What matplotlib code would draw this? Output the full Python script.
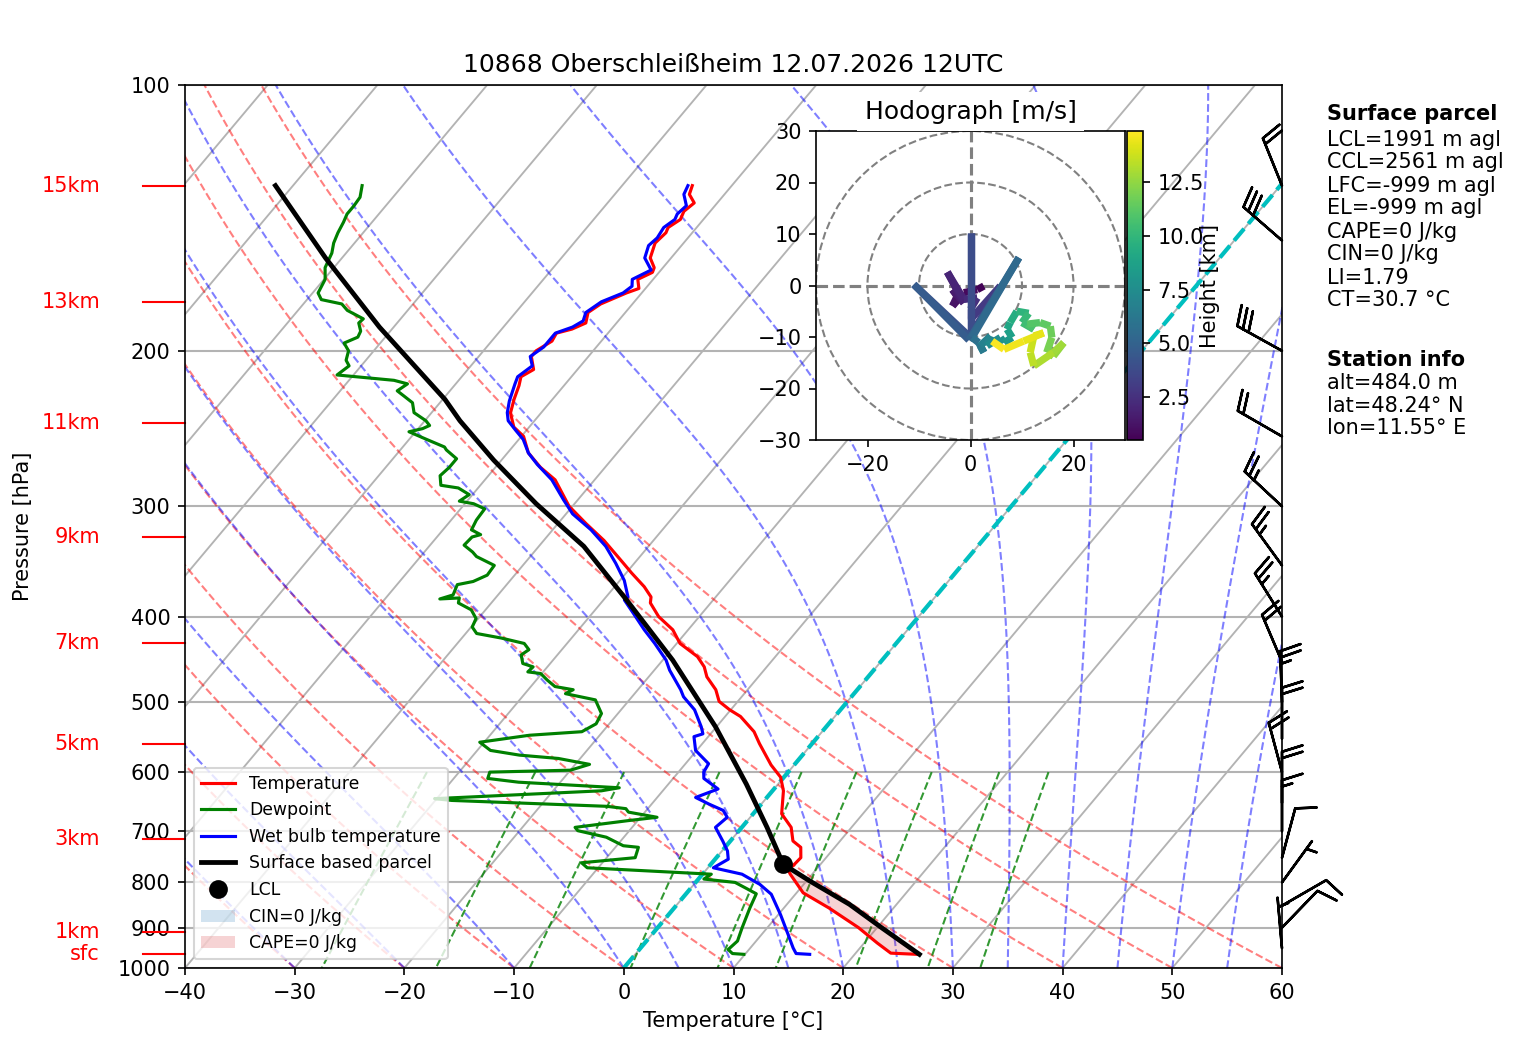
import numpy as np
import matplotlib
matplotlib.use('Agg')
import matplotlib.pyplot as plt
import matplotlib.transforms as mtransforms
from matplotlib.collections import LineCollection
from matplotlib.lines import Line2D
from matplotlib.patches import Circle, Patch
from matplotlib.ticker import NullLocator

# sounding values (hPa, degC), surface first
temp_p = [965, 962, 937, 900, 855, 822, 783, 773, 766, 750, 730, 718, 693, 669, 630, 608,
          589, 557, 540, 519, 510, 499, 484, 468, 456, 444, 429, 414, 400, 386, 380, 370,
          357, 348, 328, 314, 300, 280, 271, 261, 250, 244, 237, 235, 227, 219, 214, 210,
          203, 200, 195, 191, 189, 186, 181, 177, 172, 170, 166, 163, 161, 157, 151, 147,
          145, 142, 139, 136, 133, 130]
temp_t = [25.7, 23.2, 21.2, 18.3, 14.1, 10.6, 8.0, 7.4, 7.6, 7.7, 6.9, 5.7, 4.5, 2.6, 1.0, -0.3,
          -2.1, -4.8, -6.2, -8.6, -10.1, -11.7, -12.9, -14.7, -15.7, -17.1, -19.7, -21.4, -23.7,
          -25.5, -25.9, -27.3, -29.5, -31.0, -34.5, -37.4, -40.3, -43.6, -45.9, -48.1, -49.8,
          -51.4, -52.5, -52.8, -53.5, -54.1, -54.6, -54.0, -55.2, -55.2, -54.5, -54.7, -53.6,
          -52.8, -53.4, -52.9, -51.4, -50.6, -51.4, -50.6, -50.8, -51.9, -52.6, -52.4, -52.6,
          -52.1, -52.4, -52.1, -53.2, -53.6]

dewp_p = [965, 963, 953, 932, 900, 855, 824, 811, 800, 793, 783, 770, 760, 750, 730, 727,
          711, 699, 693, 681, 675, 666, 660, 656, 646, 643, 630, 625, 616, 610, 600, 597,
          588, 579, 574, 567, 555, 545, 540, 529, 515, 497, 489, 484, 480, 472, 464, 462,
          456, 452, 442, 436, 429, 423, 418, 411, 402, 393, 386, 381, 382, 378, 368, 365,
          359, 350, 342, 338, 332, 325, 323, 319, 311, 302, 298, 296, 291, 286, 284, 277,
          271, 265, 259, 257, 252, 247, 245, 243, 240, 235, 229, 225, 222, 218, 216, 213,
          208, 205, 200, 196, 193, 190, 186, 184, 180, 177, 175, 172, 166, 161, 155, 151,
          147, 143, 140, 137, 134, 130]
dewp_t = [9.9, 8.8, 8.1, 8.3, 7.7, 6.9, 6.4, 4.9, 3.6, 0.5, 0.8, -11.0, -11.9, -7.4, -7.9,
          -9.4, -11.6, -14.7, -15.2, -10.9, -8.5, -11.5, -12.0, -13.9, -28.5, -30.2, -15.6,
          -14.2, -23.8, -26.9, -27.2, -20.0, -18.7, -22.0, -25.8, -28.8, -30.4, -26.4, -21.9,
          -21.2, -21.5, -23.1, -26.3, -25.9, -27.8, -29.0, -30.1, -31.4, -31.3, -32.5, -33.3,
          -33.0, -33.9, -36.4, -39.0, -39.9, -40.2, -41.3, -43.0, -43.3, -45.0, -44.1, -44.5,
          -43.3, -42.5, -42.6, -44.9, -45.6, -46.9, -46.8, -46.2, -47.4, -47.7, -47.8, -49.2,
          -50.7, -50.3, -51.8, -53.6, -54.4, -54.2, -54.2, -55.8, -56.2, -58.4, -60.6, -59.6,
          -59.2, -59.9, -61.6, -62.5, -63.8, -64.8, -64.4, -65.9, -71.5, -71.1, -71.8, -72.3,
          -73.3, -72.5, -72.7, -73.5, -73.4, -75.5, -76.5, -78.7, -79.5, -79.9, -80.8, -81.3,
          -81.9, -82.3, -82.6, -82.9, -82.9, -83.0, -83.7]

wetb_p = [965, 963, 949, 916, 870, 825, 804, 783, 770, 753, 737, 718, 693, 675, 663, 652,
          641, 627, 610, 600, 587, 567, 547, 543, 533, 510, 493, 484, 460, 448, 429, 414,
          397, 383, 380, 364, 348, 333, 319, 306, 295, 280, 269, 261, 252, 246, 240, 235,
          228, 218, 214, 208, 203, 198, 191, 188, 185, 181, 176, 172, 169, 166, 162, 157,
          152, 149, 145, 142, 140, 137, 133, 130]
wetb_t = [15.9, 14.6, 13.9, 12.4, 10.2, 7.8, 6.0, 3.6, 0.5, 1.2, 0.5, -0.7, -2.4, -2.1, -3.0,
          -4.8, -6.5, -5.1, -7.2, -7.7, -7.9, -10.1, -11.3, -10.7, -11.4, -13.3, -15.3, -16.1,
          -18.6, -19.7, -22.0, -24.0, -26.2, -28.1, -28.0, -29.6, -31.7, -33.9, -36.5, -39.4,
          -41.3, -43.9, -46.4, -48.1, -49.6, -51.0, -52.4, -53.1, -53.8, -54.6, -54.9, -54.4,
          -55.3, -54.8, -54.8, -53.7, -53.2, -53.6, -53.0, -51.7, -51.4, -51.9, -50.9, -52.4,
          -53.0, -52.8, -53.0, -52.6, -52.8, -52.6, -53.7, -54.0]

parcel_p = [965, 900, 847, 797, 763, 693, 619, 533, 448, 383, 333, 298, 266, 240, 227, 188, 157, 130]
parcel_t = [25.9, 20.4, 15.7, 10.3, 6.6, 2.3, -2.9, -10.1, -19.1, -27.9, -35.9, -43.5, -50.7,
            -56.8, -59.8, -71.3, -81.5, -91.6]
lcl_p = 763
lcl_t = 6.6

# wind barbs (direction from, speed kt)
barb_p = [130, 150, 200, 250, 300, 350, 400, 450, 500, 550, 600, 650, 700, 750, 800, 850, 900, 950]
barb_dir = [338, 311, 299, 300, 313, 324, 328, 337, 358, 0, 345, 0, 0, 15, 36, 60, 44, 355]
barb_spd = [20, 30, 30, 20, 25, 25, 25, 20, 25, 20, 20, 20, 15, 10, 5, 10, 10, 5]

# hodograph (height km, u, v in m/s)
hod_h = [0.48, 0.7, 0.9, 1.1, 1.3, 1.5, 1.7, 1.9, 2.1, 2.3, 2.5, 2.8, 3.1, 3.4, 3.7, 4.0, 4.4,
         4.8, 5.2, 5.6, 6.0, 6.3, 6.6, 6.9, 7.2, 7.6, 8.0, 8.4, 8.8, 9.2, 9.6, 10.0, 10.3, 10.6,
         10.9, 11.2, 11.5, 11.8, 12.1, 12.4, 12.7, 13.0, 13.3, 13.6, 13.9, 14.2, 14.5, 14.7, 14.9]
hod_u = [2.6, 1.3, -1.3, -3.5, -2.6, -3.5, -1.3, -4.5, -1.3, 1.3, 0.0, 0.0, 5.8, 0.0, 0.0, 0.0,
         -11.0, -0.3, 9.4, 0.3, 1.6, 2.6, 1.9, 3.9, 3.2, 5.8, 6.5, 8.1, 7.1, 7.7, 9.0, 11.3, 10.0,
         12.3, 11.0, 13.5, 15.5, 15.8, 14.8, 16.1, 18.1, 16.1, 12.3, 11.6, 12.3, 14.2, 10.3, 6.5, 4.2]
hod_v = [-0.1, -0.8, -1.4, -4.0, -2.1, -0.8, -3.4, 2.6, -2.7, -2.4, -4.6, -6.6, -0.1, -9.8, 10.1,
         -10.1, 0.2, -10.6, 5.4, -10.1, -11.1, -13.0, -11.7, -9.8, -11.7, -10.1, -11.1, -10.1,
         -8.5, -7.2, -5.0, -5.4, -7.2, -8.5, -7.5, -7.2, -7.9, -10.1, -13.0, -13.7, -11.1, -13.0,
         -15.6, -13.0, -9.8, -9.2, -10.8, -12.4, -10.8]

km_labels = ['15km', '13km', '11km', '9km', '7km', '5km', '3km', '1km', 'sfc']
km_p = [130.2, 176, 241.5, 325, 428.6, 558, 714.5, 910.5, 964]

title = '10868 Oberschleißheim 12.07.2026 12UTC'
parcel_info = ['LCL=1991 m agl', 'CCL=2561 m agl', 'LFC=-999 m agl', 'EL=-999 m agl',
               'CAPE=0 J/kg', 'CIN=0 J/kg', 'LI=1.79', 'CT=30.7 °C']
station_info = ['alt=484.0 m', 'lat=48.24° N', 'lon=11.55° E']

W, H = 1517, 1054
fig = plt.figure(figsize=(W / 150, H / 150), dpi=150)
ax = fig.add_axes([185 / W, 1 - 968 / H, 1097 / W, 883 / H])
ax.set_yscale('log')
ax.set_xlim(-40, 60)
ax.set_ylim(1000, 100)

# skew in display space: 40 degrees
skew = np.tan(np.radians(40)) * (883 / 1097) * 100


def sx(t, p):
    return np.asarray(t, float) + skew * np.log10(1000. / np.asarray(p, float))


pp = np.linspace(1000, 100, 200)

# isotherms (skewed grid)
for t in range(-160, 61, 10):
    ax.plot(sx(np.full_like(pp, t), pp), pp, color='0.7', lw=0.9, zorder=1)

ax.set_xticks(range(-40, 61, 10))
ax.set_yticks(range(100, 1001, 100), labels=[str(v) for v in range(100, 1001, 100)])
ax.yaxis.set_minor_locator(NullLocator())
ax.grid(axis='y', color='0.7', lw=1.0)
ax.set_axisbelow(True)

# dry adiabats
for t0 in range(-40, 61, 10):
    tt = (t0 + 273.15) * (pp / 1000.) ** 0.2857 - 273.15
    ax.plot(sx(tt, pp), pp, color='r', ls='--', lw=1, alpha=0.5, zorder=1.2)


# moist adiabats
def moist_lapse(t0, p):
    Rd, cp, Lv, eps = 287.04749, 1005.7, 2.501e6, 0.622

    def f(pr, tk):
        es = 6.112 * np.exp(17.67 * (tk - 273.15) / (tk - 29.65))
        rs = eps * es / (pr - es)
        return (Rd * tk + Lv * rs) / (cp + Lv ** 2 * rs * eps / (Rd * tk ** 2)) / pr

    tk = np.asarray(t0, float) + 273.15
    out = [tk]
    for i in range(1, len(p)):
        h = p[i] - p[i - 1]
        k1 = f(p[i - 1], tk)
        k2 = f(p[i - 1] + h / 2, tk + h / 2 * k1)
        k3 = f(p[i - 1] + h / 2, tk + h / 2 * k2)
        k4 = f(p[i], tk + h * k3)
        tk = tk + h / 6 * (k1 + 2 * k2 + 2 * k3 + k4)
        out.append(tk)
    return np.array(out) - 273.15


t0_moist = np.concatenate((np.arange(-40, 0, 10), np.arange(0, 61, 5)))
tm = moist_lapse(t0_moist, pp)
for i in range(len(t0_moist)):
    ax.plot(sx(tm[:, i], pp), pp, color='b', ls='--', lw=1, alpha=0.5, zorder=1.2)

# mixing ratio lines
pm = np.linspace(600, 1000, 50)
for w in [0.0004, 0.001, 0.002, 0.004, 0.007, 0.01, 0.016, 0.024, 0.032]:
    e = pm * w / (0.622 + w)
    val = np.log(e / 6.112)
    td = 243.5 * val / (17.67 - val)
    ax.plot(sx(td, pm), pm, color='g', ls='--', lw=1, alpha=0.8, zorder=1.2)

# 0 degC isotherm
ax.plot(sx([0, 0], [1000, 100]), [1000, 100], color='c', ls='--', lw=2, zorder=2)

# profiles
ax.plot(sx(temp_t, temp_p), temp_p, 'r', lw=1.5, zorder=3)
ax.plot(sx(dewp_t, dewp_p), dewp_p, 'g', lw=1.5, zorder=3)
ax.plot(sx(wetb_t, wetb_p), wetb_p, 'b', lw=1.5, zorder=3)
ax.plot(sx(parcel_t, parcel_p), parcel_p, 'k', lw=2.3, zorder=3.5)
ax.plot(sx([lcl_t], [lcl_p]), [lcl_p], 'ko', ms=8, zorder=4)

# CAPE shading between parcel and environment
pg = np.linspace(lcl_p, temp_p[0], 60)
t_env = np.interp(pg, temp_p[::-1], temp_t[::-1])
t_par = np.interp(pg, parcel_p[::-1], parcel_t[::-1])
ax.fill_betweenx(pg, sx(t_env, pg), sx(t_par, pg), where=t_par > t_env,
                 color='tab:red', alpha=0.2, lw=0, zorder=2.5)

handles = [Line2D([], [], color='r', lw=1.5), Line2D([], [], color='g', lw=1.5),
           Line2D([], [], color='b', lw=1.5), Line2D([], [], color='k', lw=2.3),
           Line2D([], [], color='k', marker='o', ls='', ms=8),
           Patch(facecolor='tab:blue', alpha=0.2), Patch(facecolor='tab:red', alpha=0.2)]
labels = ['Temperature', 'Dewpoint', 'Wet bulb temperature', 'Surface based parcel', 'LCL',
          'CIN=0 J/kg', 'CAPE=0 J/kg']
ax.legend(handles, labels, loc='lower left', fontsize=8.3)

# wind barbs on right edge
trans = mtransforms.blended_transform_factory(ax.transAxes, ax.transData)
bd = np.radians(barb_dir)
bu = -np.array(barb_spd) * np.sin(bd)
bv = -np.array(barb_spd) * np.cos(bd)
ax.barbs(np.ones(len(barb_p)), barb_p, bu, bv, transform=trans, clip_on=False,
         length=7, linewidth=1.2, zorder=5)

# height labels
for lab, p in zip(km_labels, km_p):
    ax.plot([-0.0383, 0], [p, p], color='r', lw=1, transform=trans, clip_on=False)
    ax.text(-0.0775, p, lab, color='r', ha='right', va='center', transform=trans)

ax.set_xlabel('Temperature [°C]')
ax.set_ylabel('Pressure [hPa]')
ax.yaxis.set_label_coords(-0.139, 0.5)
ax.set_title(title, fontsize=12)

# hodograph inset
axh = fig.add_axes([816 / W, 1 - 440 / H, 309 / W, 309 / H])
axh.set_xlim(-30, 30)
axh.set_ylim(-30, 30)
for r in (10, 20, 30):
    axh.add_patch(Circle((0, 0), r, fill=False, ls='--', color='grey', lw=1))
axh.axhline(0, color='grey', ls='--', lw=1.5)
axh.axvline(0, color='grey', ls='--', lw=1.5)
pts = np.column_stack([hod_u, hod_v])
segs = np.stack([pts[:-1], pts[1:]], axis=1)
hh = np.array(hod_h)
lc = LineCollection(segs, cmap='viridis', norm=plt.Normalize(hh.min(), hh.max()), lw=3.5)
lc.set_array((hh[:-1] + hh[1:]) / 2)
axh.add_collection(lc)
axh.set_title('Hodograph [m/s]', fontsize=12,
              bbox=dict(facecolor='white', edgecolor='none', pad=3.5))
cax = fig.add_axes([1127.3 / W, 1 - 440 / H, 15.4 / W, 309 / H])
cb = fig.colorbar(lc, cax=cax)
cb.set_label('Height [km]')
cax.yaxis.set_label_coords(4.7, 0.5)

# text block on the right
xt = 1327 / W
fig.text(xt, 1 - 114 / H, 'Surface parcel', fontweight='bold', va='center')
for i, s in enumerate(parcel_info):
    fig.text(xt, 1 - (139.5 + 23.0 * i) / H, s, va='center')
fig.text(xt, 1 - 359.5 / H, 'Station info', fontweight='bold', va='center')
for i, s in enumerate(station_info):
    fig.text(xt, 1 - (382.8 + 22.8 * i) / H, s, va='center')

fig.savefig('out.png', dpi=150)
